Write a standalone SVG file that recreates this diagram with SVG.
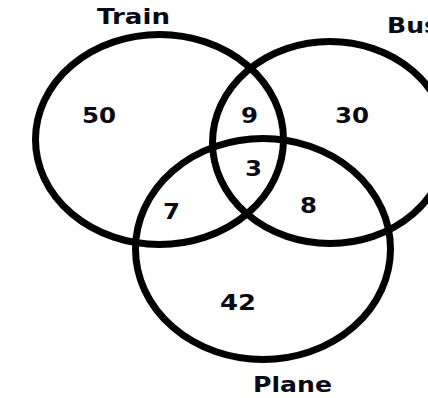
<svg xmlns="http://www.w3.org/2000/svg" width="428" height="398" viewBox="0 0 428 398">
  <style>
    .set { fill: none; stroke: #000; stroke-width: 7; }
    .lbl { font-family: "DejaVu Sans", Verdana, sans-serif; font-weight: bold; font-size: 22px; fill: #0a0a14; }
  </style>
  <rect width="428" height="398" fill="#fff"/>
  <g id="train">
    <ellipse class="set" cx="159.5" cy="139.5" rx="124" ry="105"/>
    <text class="lbl" x="97" y="24" textLength="73" lengthAdjust="spacingAndGlyphs">Train</text>
  </g>
  <g id="bus">
    <ellipse class="set" cx="330" cy="142.5" rx="117.5" ry="101"/>
    <text class="lbl" x="387" y="33" textLength="52" lengthAdjust="spacingAndGlyphs">Bus</text>
  </g>
  <g id="plane">
    <ellipse class="set" cx="263" cy="249" rx="127.5" ry="110.5"/>
    <text class="lbl" x="253" y="392" textLength="79" lengthAdjust="spacingAndGlyphs">Plane</text>
  </g>
  <g id="counts">
    <text class="lbl" x="82" y="123" textLength="34" lengthAdjust="spacingAndGlyphs">50</text>
    <text class="lbl" x="241" y="123" textLength="17" lengthAdjust="spacingAndGlyphs">9</text>
    <text class="lbl" x="335" y="123" textLength="34" lengthAdjust="spacingAndGlyphs">30</text>
    <text class="lbl" x="245" y="176" textLength="17" lengthAdjust="spacingAndGlyphs">3</text>
    <text class="lbl" x="163" y="219" textLength="17" lengthAdjust="spacingAndGlyphs">7</text>
    <text class="lbl" x="300" y="213" textLength="17" lengthAdjust="spacingAndGlyphs">8</text>
    <text class="lbl" x="220" y="310" textLength="36" lengthAdjust="spacingAndGlyphs">42</text>
  </g>
</svg>
